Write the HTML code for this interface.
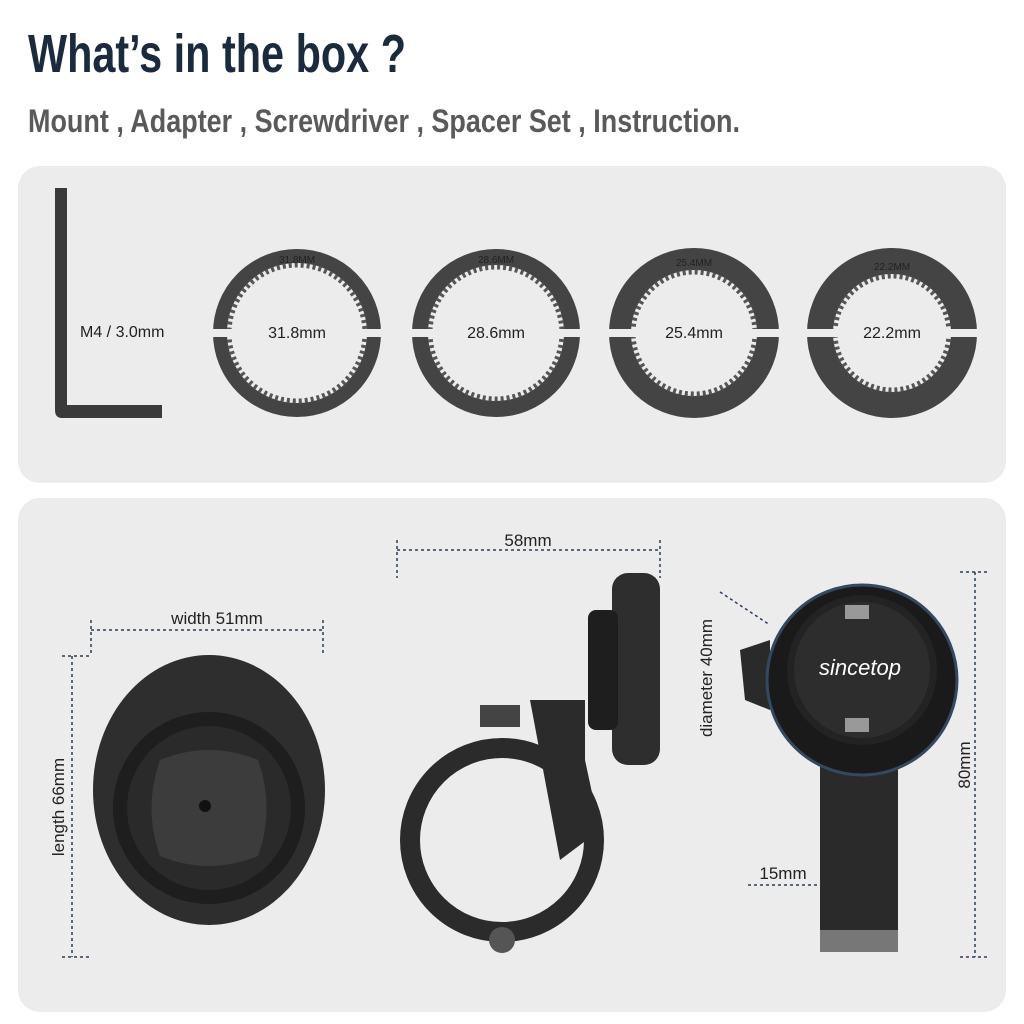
<!DOCTYPE html>
<html><head><meta charset="utf-8"><style>
html,body{margin:0;padding:0;background:#fff;width:1024px;height:1024px;overflow:hidden}
</style></head><body>
<svg width="1024" height="1024" viewBox="0 0 1024 1024" xmlns="http://www.w3.org/2000/svg" font-family="Liberation Sans, sans-serif">
<rect width="1024" height="1024" fill="#fff"/>
<text x="28" y="72" font-size="54" font-weight="bold" fill="#1b2b3d" textLength="378" lengthAdjust="spacingAndGlyphs">What’s in the box ?</text>
<text x="28" y="132" font-size="32" font-weight="bold" fill="#5a5a5a" textLength="712" lengthAdjust="spacingAndGlyphs">Mount , Adapter , Screwdriver , Spacer Set , Instruction.</text>
<rect x="18" y="166" width="988" height="317" rx="22" fill="#ececec"/>
<rect x="18" y="498" width="988" height="514" rx="22" fill="#ececec"/>
<path d="M55 188 H67 V405 H162 V418 H62 Q55 418 55 410 Z" fill="#3a3a3a"/>
<text x="80" y="337" font-size="16" fill="#222">M4 / 3.0mm</text>
<g fill="none" stroke="#444">
<g transform="translate(297,333)"><circle r="77" stroke-width="14"/><circle r="68" stroke="#555" stroke-width="5" stroke-dasharray="3 3"/></g>
<g transform="translate(496,333)"><circle r="76" stroke-width="16"/><circle r="66" stroke="#555" stroke-width="5" stroke-dasharray="3 3"/></g>
<g transform="translate(694,333)"><circle r="74" stroke-width="22"/><circle r="61" stroke="#555" stroke-width="5" stroke-dasharray="3 3"/></g>
<g transform="translate(892,333)"><circle r="72" stroke-width="26"/><circle r="57" stroke="#555" stroke-width="5" stroke-dasharray="3 3"/></g>
</g>
<g fill="#ececec"><rect x="205" y="329" width="190" height="8"/><rect x="404" y="329" width="190" height="8"/><rect x="602" y="329" width="190" height="8"/><rect x="800" y="329" width="190" height="8"/></g>
<g font-size="16" fill="#222" text-anchor="middle"><text x="297" y="338">31.8mm</text><text x="496" y="338">28.6mm</text><text x="694" y="338">25.4mm</text><text x="892" y="338">22.2mm</text></g>
<g font-size="10" fill="#222" text-anchor="middle"><text x="297" y="263">31.8MM</text><text x="496" y="263">28.6MM</text><text x="694" y="266">25.4MM</text><text x="892" y="270">22.2MM</text></g>
<g stroke="#2a3f5a" stroke-width="1.5" stroke-dasharray="3 3" fill="none">
<path d="M91 620 V656 M91 630 H323 M323 620 V656"/>
<path d="M62 656 H90 M72 656 V957 M62 957 H90"/>
<path d="M397 540 V578 M397 550 H660 M660 540 V578"/>
<path d="M960 572 H990 M975 572 V957 M960 957 H990"/>
<path d="M720 592 L770 625"/>
<path d="M748 885 H820"/>
</g>
<g font-size="17" fill="#222">
<text x="217" y="624" text-anchor="middle">width 51mm</text>
<text x="528" y="546" text-anchor="middle">58mm</text>
<text x="783" y="879" text-anchor="middle">15mm</text>
<text transform="translate(64,807) rotate(-90)" text-anchor="middle">length 66mm</text>
<text transform="translate(970,765) rotate(-90)" text-anchor="middle">80mm</text>
<text transform="translate(712,678) rotate(-90)" text-anchor="middle">diameter 40mm</text>
</g>
<ellipse cx="209" cy="790" rx="116" ry="135" fill="#2e2e2e"/>
<circle cx="209" cy="808" r="96" fill="#1e1e1e"/>
<circle cx="209" cy="808" r="82" fill="#2a2a2a"/>
<path d="M160 760 Q209 740 258 760 Q275 808 258 856 Q209 876 160 856 Q143 808 160 760Z" fill="#3c3c3c"/>
<circle cx="205" cy="806" r="6" fill="#111"/>
<circle cx="502" cy="840" r="92" fill="none" stroke="#2b2b2b" stroke-width="20"/>
<path d="M530 700 H585 V760 L600 830 L560 860 Z" fill="#2b2b2b"/>
<rect x="480" y="705" width="40" height="22" fill="#444"/>
<rect x="612" y="573" width="48" height="192" rx="16" fill="#2e2e2e"/>
<rect x="588" y="610" width="30" height="120" rx="8" fill="#1e1e1e"/>
<circle cx="502" cy="940" r="13" fill="#555"/>
<rect x="820" y="750" width="78" height="200" fill="#2a2a2a"/>
<rect x="820" y="930" width="78" height="22" fill="#777"/>
<path d="M770 640 L740 650 L745 700 L770 710Z" fill="#2a2a2a"/>
<circle cx="862" cy="680" r="95" fill="#1a1a1a" stroke="#34495e" stroke-width="3"/>
<circle cx="862" cy="670" r="75" fill="#232323"/>
<circle cx="862" cy="670" r="68" fill="#2d2d2d"/>
<rect x="845" y="605" width="24" height="14" fill="#999"/>
<rect x="845" y="718" width="24" height="14" fill="#999"/>
<text x="860" y="675" font-size="22" font-style="italic" fill="#fff" text-anchor="middle">sincetop</text>
</svg>
</body></html>
